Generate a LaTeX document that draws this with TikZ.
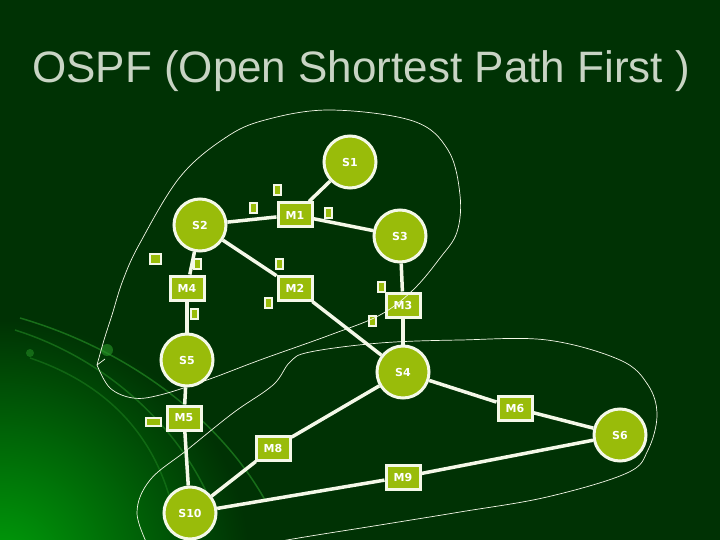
\documentclass[tikz,border=0pt]{standalone}
\usepackage{fontspec}
\setmainfont{DejaVu Sans}
\newfontfamily\titlefont{Liberation Sans}
\usepackage{tikz}

\definecolor{bggreen}{RGB}{0,50,4}
\definecolor{glowgreen}{RGB}{0,160,10}
\definecolor{arcgreen}{RGB}{40,150,40}
\definecolor{nodegreen}{RGB}{153,188,10}
\definecolor{linkwhite}{RGB}{244,248,232}
\definecolor{titlegrey}{RGB}{200,212,196}

\begin{document}
\begin{tikzpicture}[x=1pt, y=-1pt,
    router/.style={circle, draw=linkwhite, line width=3pt, fill=nodegreen,
        minimum size=52pt, inner sep=0pt, text=white, font=\bfseries\fontsize{11}{11}\selectfont},
    net/.style={rectangle, draw=linkwhite, line width=3pt, fill=nodegreen,
        minimum width=34pt, minimum height=24pt, inner sep=0pt, text=white, font=\bfseries\fontsize{11}{11}\selectfont},
    port/.style={rectangle, draw=linkwhite, line width=2pt, fill=nodegreen,
        minimum width=7pt, minimum height=10pt, inner sep=0pt},
    link/.style={draw=linkwhite, line width=3.5pt},
    area/.style={draw=linkwhite, line width=0.7pt}]
    % Background with the glow in the lower left corner
    \clip (0,0) rectangle (720,540);
    \fill[bggreen] (0,0) rectangle (720,540);
    \shade[inner color=glowgreen, outer color=bggreen] (0,570) circle (250);
    \draw[arcgreen, line width=1.5pt, opacity=0.6] (20,318) .. controls (130,350) and (220,420) .. (265,500);
    \draw[arcgreen, line width=1.5pt, opacity=0.5] (15,330) .. controls (110,360) and (180,430) .. (210,500);
    \draw[arcgreen, line width=1.5pt, opacity=0.4] (30,358) .. controls (110,385) and (160,440) .. (175,520);
    \fill[arcgreen, opacity=0.6] (107,350) circle (6);
    \fill[arcgreen, opacity=0.5] (30,353) circle (4);
    % Title
    \node[anchor=base, text=titlegrey, font=\titlefont\fontsize{44}{44}\selectfont] (title) at (361,83)
        {OSPF (Open Shortest Path First )};
    % Routers
    \node[router] (S1) at (350,162) {S1};
    \node[router] (S2) at (200,225) {S2};
    \node[router] (S3) at (400,236) {S3};
    \node[router] (S4) at (403,372) {S4};
    \node[router] (S5) at (187,360) {S5};
    \node[router] (S6) at (620,435) {S6};
    \node[router] (S10) at (190,513) {S10};
    % Networks
    \node[net] (M1) at (295,215) {M1};
    \node[net] (M2) at (295,288) {M2};
    \node[net] (M3) at (403,305) {M3};
    \node[net] (M4) at (187,288) {M4};
    \node[net] (M5) at (184,418) {M5};
    \node[net] (M6) at (515,408) {M6};
    \node[net] (M8) at (273,448) {M8};
    \node[net] (M9) at (403,477) {M9};
    % Links
    \draw[link] (S1) -- (M1);
    \draw[link] (S2) -- (M1);
    \draw[link] (M1) -- (S3);
    \draw[link] (S2) -- (M2);
    \draw[link] (S2) -- (M4);
    \draw[link] (S3) -- (M3);
    \draw[link] (M2) -- (S4);
    \draw[link] (M3) -- (S4);
    \draw[link] (M4) -- (S5);
    \draw[link] (S5) -- (M5);
    \draw[link] (M5) -- (S10);
    \draw[link] (S10) -- (M8);
    \draw[link] (M8) -- (S4);
    \draw[link] (S10) -- (M9);
    \draw[link] (M9) -- (S6);
    \draw[link] (S4) -- (M6);
    \draw[link] (M6) -- (S6);
    % Small interface boxes
    \foreach \x/\y [count=\i] in {277/190, 253/208, 328/213, 197/264, 279/264,
        268/303, 194/314, 381/287, 372/321} {
        \node[port] (p\i) at (\x,\y) {};
    }
    \node[port, minimum width=11pt, minimum height=10pt] (q1) at (155,259) {};
    \node[port, minimum width=15pt, minimum height=8pt] (q2) at (153,422) {};
    % Area borders
    \draw[area] plot[smooth, tension=0.6] coordinates {(97,365) (104,340) (112,315) (123,280)
        (140,243) (180,177) (225,138) (265,120) (330,110) (413,121) (448,150) (460,195)
        (457,232) (440,258) (413,290) (380,315) (330,335) (260,360) (207,380) (160,395)
        (133,398) (110,388) (97,365)};
    \draw[area] (97,365) -- (105,359);
    \draw[area] plot[smooth, tension=0.6] coordinates {(150,550) (137,513) (150,480)
        (187,450) (233,413) (273,385) (290,362) (310,352) (380,343) (460,340) (547,340)
        (620,360) (648,385) (657,415) (648,450) (627,473) (547,497) (460,512) (380,525)
        (287,540) (240,550)};
\end{tikzpicture}
\end{document}
